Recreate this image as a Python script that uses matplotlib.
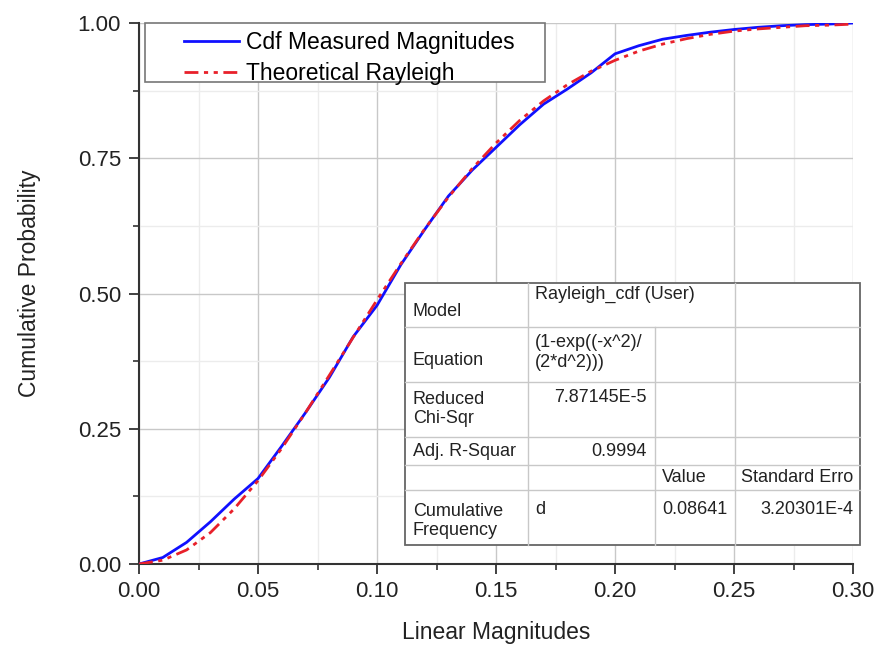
import matplotlib
matplotlib.use("Agg")
import matplotlib.pyplot as plt
from matplotlib.patches import Rectangle
from matplotlib.lines import Line2D
from matplotlib.ticker import MultipleLocator, FormatStrFormatter

plt.rcParams["font.family"] = ["Liberation Sans", "DejaVu Sans"]

# values
x_vals = [0.00, 0.01, 0.02, 0.03, 0.04, 0.05, 0.06, 0.07, 0.08, 0.09, 0.10,
          0.11, 0.12, 0.13, 0.14, 0.15, 0.16, 0.17, 0.18, 0.19, 0.20,
          0.21, 0.22, 0.23, 0.24, 0.25, 0.26, 0.27, 0.28, 0.29, 0.30]
measured = [0.000, 0.012, 0.040, 0.078, 0.120, 0.158, 0.218, 0.280, 0.345, 0.420, 0.478,
            0.553, 0.618, 0.680, 0.728, 0.770, 0.812, 0.850, 0.878, 0.908, 0.943,
            0.958, 0.970, 0.977, 0.983, 0.988, 0.992, 0.995, 0.997, 0.998, 1.000]
rayleigh = [0.000, 0.007, 0.026, 0.058, 0.102, 0.154, 0.214, 0.280, 0.349, 0.419, 0.488,
            0.555, 0.619, 0.678, 0.731, 0.778, 0.820, 0.856, 0.886, 0.911, 0.931,
            0.948, 0.961, 0.971, 0.979, 0.985, 0.989, 0.992, 0.995, 0.996, 0.998]

legend_labels = ["Cdf Measured Magnitudes", "Theoretical Rayleigh"]

# fit report table (rows of cells)
table_rows = [
    ["Model", "Rayleigh_cdf (User)", "", ""],
    ["Equation", "(1-exp((-x^2)/\n(2*d^2)))", "", ""],
    ["Reduced\nChi-Sqr", "7.87145E-5", "", ""],
    ["Adj. R-Squar", "0.9994", "", ""],
    ["", "", "Value", "Standard Erro"],
    ["Cumulative\nFrequency", "d", "0.08641", "3.20301E-4"],
]

W, H = 881, 651
fig = plt.figure(figsize=(W / 100, H / 100), dpi=100)


def fx(px):
    return px / W


def fy(py):
    return 1 - py / H


ax = fig.add_axes([fx(139), fy(564), fx(853) - fx(139), fy(23) - fy(564)])

red_dash = (0, (5, 2, 1.5, 2, 1.5, 2))
ax.plot(x_vals, measured, color="#1010ff", lw=2.0, zorder=3)
ax.plot(x_vals, rayleigh, color="#e8202a", lw=2.0, zorder=4, linestyle=red_dash)

ax.set_xlim(0, 0.30)
ax.set_ylim(0, 1.0)
ax.xaxis.set_major_locator(MultipleLocator(0.05))
ax.xaxis.set_minor_locator(MultipleLocator(0.025))
ax.yaxis.set_major_locator(MultipleLocator(0.25))
ax.yaxis.set_minor_locator(MultipleLocator(0.125))
ax.xaxis.set_major_formatter(FormatStrFormatter("%.2f"))
ax.yaxis.set_major_formatter(FormatStrFormatter("%.2f"))
ax.grid(which="major", color="#c8c8c8", lw=1.0)
ax.grid(which="minor", color="#ececec", lw=1.0)
ax.set_axisbelow(True)

for side in ["top", "right"]:
    ax.spines[side].set_visible(False)
for side in ["left", "bottom"]:
    ax.spines[side].set_color("#333333")
    ax.spines[side].set_linewidth(1.5)

ax.tick_params(which="major", direction="out", length=7, width=1.3, colors="#333333",
               labelsize=16, labelcolor="#222222")
ax.tick_params(which="minor", direction="out", length=4, width=1.2, colors="#333333")
ax.tick_params(axis="x", pad=5)
ax.tick_params(axis="y", pad=6)

ax.set_xlabel("Linear Magnitudes", fontsize=16.5, color="#222222")
ax.set_ylabel("Cumulative Probability", fontsize=16.5, color="#222222")
ax.xaxis.set_label_coords(0.5, -(632 - 564) / 541, transform=ax.transAxes)
ax.yaxis.set_label_coords(-(139 - 30) / 714, (564 - 283) / 541)
ax.xaxis.label.set_va("center")
ax.yaxis.label.set_va("center")

# legend box
fig.add_artist(Rectangle((fx(145), fy(82)), fx(545) - fx(145), fy(23) - fy(82),
                         transform=fig.transFigure, facecolor="white",
                         edgecolor="#777777", lw=1.2, zorder=5))
handles = [Line2D([], [], color="#1010ff", lw=2.0),
           Line2D([], [], color="#e8202a", lw=2.0, linestyle=red_dash)]
leg = fig.legend(handles, legend_labels, loc="upper left",
                 bbox_to_anchor=(fx(168), fy(15)), frameon=False,
                 fontsize=16.5, handlelength=2.4, handletextpad=0.3,
                 labelspacing=0.35, borderpad=0.2)
leg.set_zorder(6)

# fit report table
left, right, top, bottom = 405, 860, 283, 545
row_edges = [283, 327, 382, 437, 465, 490, 545]
fig.add_artist(Rectangle((fx(left), fy(bottom)), fx(right) - fx(left), fy(top) - fy(bottom),
                         transform=fig.transFigure, facecolor="white",
                         edgecolor="#666666", lw=1.3, zorder=5))
for r in row_edges[1:-1]:
    fig.add_artist(Line2D([fx(left), fx(right)], [fy(r), fy(r)], color="#c8c8c8",
                          lw=1.0, transform=fig.transFigure, zorder=6))
fig.add_artist(Line2D([fx(528), fx(528)], [fy(top), fy(bottom)], color="#c8c8c8",
                      lw=1.0, transform=fig.transFigure, zorder=6))
fig.add_artist(Line2D([fx(655), fx(655)], [fy(327), fy(bottom)], color="#c8c8c8",
                      lw=1.0, transform=fig.transFigure, zorder=6))
fig.add_artist(Line2D([fx(735), fx(735)], [fy(top), fy(bottom)], color="#c8c8c8",
                      lw=1.0, transform=fig.transFigure, zorder=6))

tkw = dict(fontsize=13, color="#222222", zorder=7, transform=fig.transFigure,
           linespacing=1.2)
# (x px, y px, ha, va) for each non-empty cell
cell_pos = {
    (0, 0): (413, 312, "left", "center"),
    (0, 1): (535, 286, "left", "top"),
    (1, 0): (413, 360, "left", "center"),
    (1, 1): (535, 334, "left", "top"),
    (2, 0): (413, 409, "left", "center"),
    (2, 1): (647, 389, "right", "top"),
    (3, 0): (413, 452, "left", "center"),
    (3, 1): (647, 443, "right", "top"),
    (4, 2): (662, 478, "left", "center"),
    (4, 3): (741, 478, "left", "center"),
    (5, 0): (413, 521, "left", "center"),
    (5, 1): (535, 501, "left", "top"),
    (5, 2): (662, 501, "left", "top"),
    (5, 3): (853, 501, "right", "top"),
}
for (r, c), (px, py, ha, va) in cell_pos.items():
    fig.text(fx(px), fy(py), table_rows[r][c], ha=ha, va=va, **tkw)

fig.savefig("out.png", dpi=100)
